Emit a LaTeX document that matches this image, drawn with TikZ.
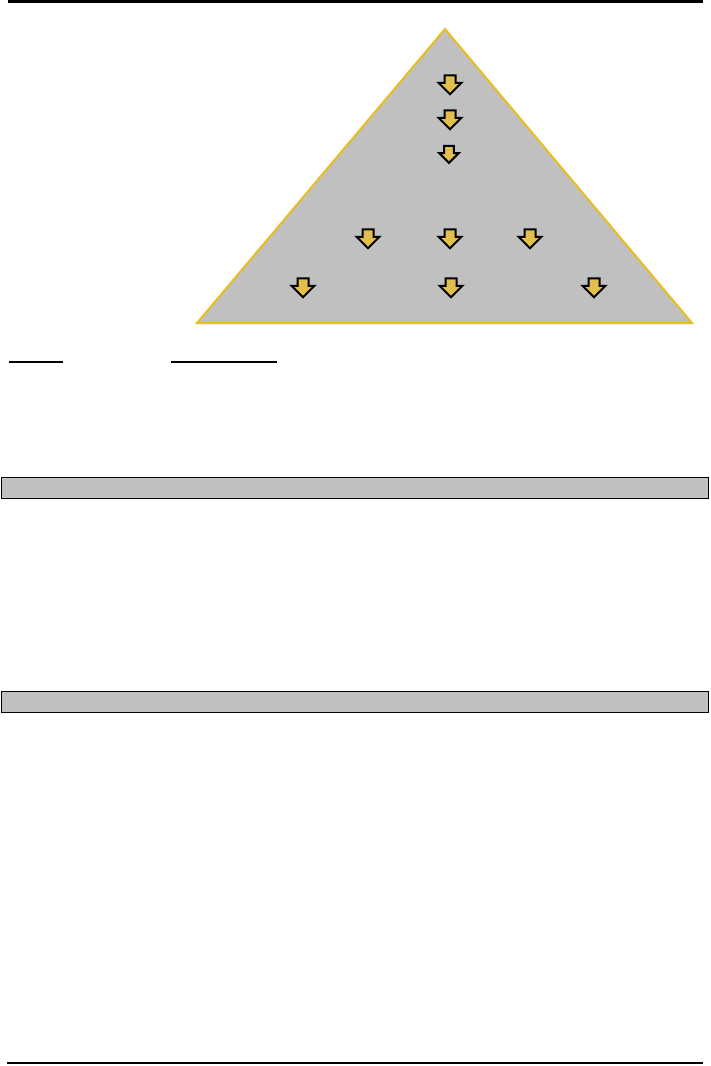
\documentclass[tikz,border=0pt]{standalone}
\usepackage{xcolor}
\usepackage{tikz}
\usetikzlibrary{shapes.arrows, calc}
\definecolor{pyrfill}{RGB}{192,192,192}
\definecolor{pyredge}{RGB}{232,190,30}
\definecolor{arrgold}{RGB}{226,190,78}
\begin{document}
\begin{tikzpicture}[
      x=1pt, y=-1pt,
      dn/.style={shape=single arrow, shape border rotate=270, draw, line width=2pt,
        fill=arrgold, inner sep=4.5pt, minimum height=19pt,
        single arrow head extend=6pt},
      dns/.style={dn, inner sep=3.8pt, minimum height=17pt, single arrow head extend=5pt},
      bar/.style={draw, line width=1.6pt, fill=pyrfill},
      rule/.style={line width=2.5pt},
    ]
    \useasboundingbox (0,0) rectangle (710,1066);
    % top and bottom rules
    \coordinate (tl) at (8,1.5);  \coordinate (tr) at (703,1.5);
    \coordinate (bl) at (7,1063); \coordinate (br) at (703,1063);
    \draw[rule] (tl) -- (tr);
    \draw[rule] (bl) -- (br);
    % pyramid
    \coordinate (apex) at (445,29);
    \coordinate (pl) at (197,323);
    \coordinate (pr) at (692,323);
    \draw[pyredge, line width=2pt, fill=pyrfill, line join=miter] (apex) -- (pl) -- (pr) -- cycle;
    % arrows: centre column, then two rows
    \node[dn] (a1) at (450,82) {};
    \node[dn] (a2) at (450,117) {};
    \node[dns] (a3) at (449,152) {};
    \foreach \xx [count=\i from 4] in {368,450,530}
      \node[dn] (a\i) at (\xx,236) {};
    \foreach \xx [count=\i from 7] in {303,451,594}
      \node[dn] (a\i) at (\xx,285) {};
    % underlines
    \coordinate (u1) at (9,362);   \coordinate (u2) at (63,362);
    \coordinate (u3) at (171,362); \coordinate (u4) at (277,362);
    \draw[line width=1.8pt] (u1) -- (u2);
    \draw[line width=1.8pt] (u3) -- (u4);
    % grey bars
    \node[bar, minimum width=707pt, minimum height=21pt, inner sep=0pt] (bar1) at (355,488) {};
    \node[bar, minimum width=707pt, minimum height=21pt, inner sep=0pt] (bar2) at (355,702) {};
\end{tikzpicture}
\end{document}
